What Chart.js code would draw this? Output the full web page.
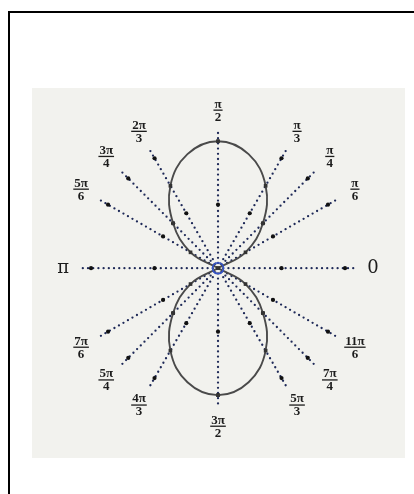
<!DOCTYPE html>
<html>
<head>
<meta charset="utf-8">
<script src="https://cdn.jsdelivr.net/npm/chart.js@4/dist/chart.umd.min.js"></script>
<style>
  html, body { margin: 0; padding: 0; background: #fff; }
  body { width: 414px; height: 494px; position: relative; overflow: hidden; }
  #frame {
    position: absolute; left: 8px; top: 11px; width: 420px; height: 500px;
    border-left: 2px solid #000; border-top: 2px solid #000;
  }
  #plotBox {
    position: absolute; left: 32px; top: 88px; width: 373px; height: 370px;
    background: #f2f2ee;
  }
</style>
</head>
<body>
<div id="frame"></div>
<div id="plotBox"><canvas id="polarChart"></canvas></div>
<script>
// Ray directions (degrees) and their labels as fractions of π
const rayDeg = [0, 30, 45, 60, 90, 120, 135, 150, 180, 210, 225, 240, 270, 300, 315, 330];
const rayNum = ['0', 'π', 'π', 'π', 'π', '2π', '3π', '5π', 'π', '7π', '5π', '4π', '3π', '5π', '7π', '11π'];
const rayDen = ['', '6', '4', '3', '2', '3', '4', '6', '', '6', '4', '3', '2', '3', '4', '6'];

// Curve samples: angle (degrees) and radius
const curveDeg = [0, 30, 45, 60, 75, 90, 105, 120, 135, 150, 180, 210, 225, 240, 255, 270, 285, 300, 315, 330, 360];
const curveR = [0, 0.25, 0.5, 0.75, 0.93, 1, 0.93, 0.75, 0.5, 0.25, 0, 0.25, 0.5, 0.75, 0.93, 1, 0.93, 0.75, 0.5, 0.25, 0];

// Heavier marks along every ray
const rayTicks = [0.5, 1];
const rayLength = 1.1;

const PX_PER_UNIT = 132;
const CENTER_X = 186, CENTER_Y = 180;
const BOX_W = 373, BOX_H = 370;

const rad = d => d * Math.PI / 180;
const toXY = (deg, r) => ({ x: r * Math.cos(rad(deg)), y: r * Math.sin(rad(deg)) });

// Build the datasets
const datasets = [];

rayDeg.forEach(d => {
    datasets.push({
        data: [toXY(d, 0), toXY(d, rayLength)],
        showLine: true,
        borderColor: '#1f2a58',
        borderWidth: 2.3,
        borderDash: [0, 5.2],
        borderCapStyle: 'round',
        pointRadius: 0,
        order: 5
    });
});

datasets.push({
    data: rayDeg.flatMap(d => rayTicks.map(r => toXY(d, r))),
    showLine: false,
    pointRadius: 2.1,
    pointBackgroundColor: '#111',
    pointBorderWidth: 0,
    order: 4
});

function lobe(test) {
    const pts = [];
    curveDeg.forEach((d, i) => { if (test(d)) pts.push(toXY(d, curveR[i])); });
    return pts;
}

[lobe(d => d <= 180), lobe(d => d >= 180)].forEach(pts => {
    datasets.push({
        data: pts,
        showLine: true,
        borderColor: '#4a4a4a',
        borderWidth: 1.9,
        tension: 0.4,
        pointRadius: 0,
        order: 2
    });
});

// Dots where the curve meets each ray
datasets.push({
    data: curveDeg.filter(d => rayDeg.includes(d % 360) && d !== 360)
        .map(d => toXY(d, curveR[curveDeg.indexOf(d)])),
    showLine: false,
    pointRadius: 2.6,
    pointStyle: 'rect',
    pointBackgroundColor: '#333',
    pointBorderWidth: 0,
    order: 1
});

// Pole marker
datasets.push({
    data: [{ x: 0, y: 0 }],
    showLine: false,
    pointRadius: 5.5,
    pointBackgroundColor: 'rgba(0,0,0,0)',
    pointBorderColor: '#3553c8',
    pointBorderWidth: 1.6,
    order: 0
});

// Angle labels drawn outside the rays
const angleLabels = {
    id: 'angleLabels',
    afterDatasetsDraw(chart) {
        const ctx = chart.ctx;
        const xs = chart.scales.x, ys = chart.scales.y;
        ctx.save();
        ctx.fillStyle = '#1c1c1c';
        ctx.strokeStyle = '#1c1c1c';
        ctx.textAlign = 'center';
        ctx.textBaseline = 'middle';
        rayDeg.forEach((d, i) => {
            if (!rayDen[i]) {
                const p = toXY(d, 1.22);
                ctx.font = '18px "DejaVu Serif"';
                ctx.fillText(rayNum[i], xs.getPixelForValue(p.x), ys.getPixelForValue(p.y));
                return;
            }
            const p = toXY(d, 1.245);
            const cx = xs.getPixelForValue(p.x), cy = ys.getPixelForValue(p.y);
            ctx.font = 'bold 13px "Liberation Serif"';
            const w = Math.max(ctx.measureText(rayNum[i]).width, ctx.measureText(rayDen[i]).width) + 2;
            ctx.fillText(rayNum[i], cx, cy - 6);
            ctx.fillText(rayDen[i], cx, cy + 7);
            ctx.lineWidth = 1.3;
            ctx.beginPath();
            ctx.moveTo(cx - w / 2, cy);
            ctx.lineTo(cx + w / 2, cy);
            ctx.stroke();
        });
        ctx.restore();
    }
};

new Chart(document.getElementById('polarChart'), {
    type: 'scatter',
    data: { datasets: datasets },
    options: {
        responsive: true,
        maintainAspectRatio: false,
        animation: false,
        layout: { padding: 0 },
        scales: {
            x: { type: 'linear', display: false,
                 min: -CENTER_X / PX_PER_UNIT, max: (BOX_W - CENTER_X) / PX_PER_UNIT },
            y: { type: 'linear', display: false,
                 min: -(BOX_H - CENTER_Y) / PX_PER_UNIT, max: CENTER_Y / PX_PER_UNIT }
        },
        plugins: {
            legend: { display: false },
            tooltip: { enabled: false }
        }
    },
    plugins: [angleLabels]
});
</script>
</body>
</html>
